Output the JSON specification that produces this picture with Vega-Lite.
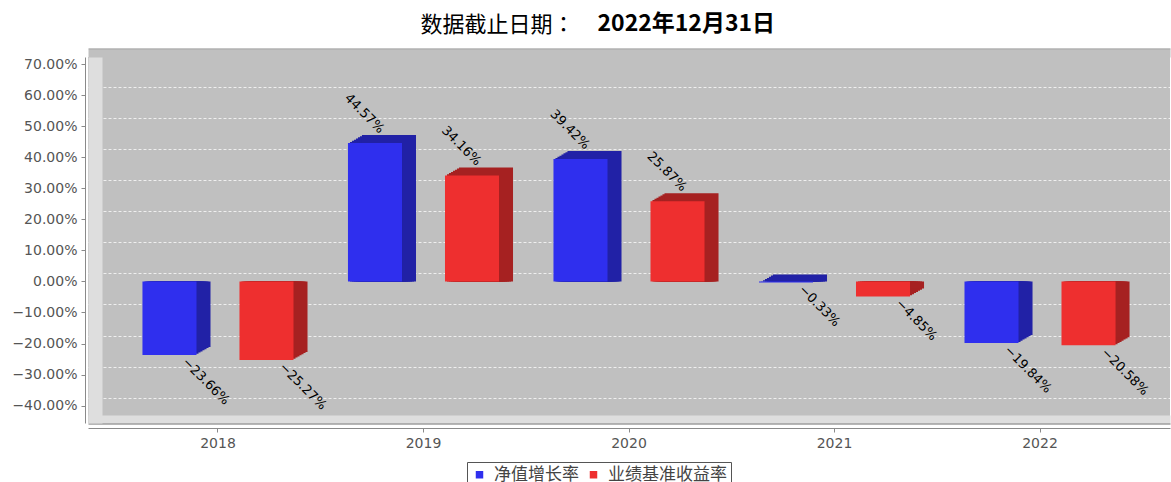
{
  "$schema": "https://vega.github.io/schema/vega-lite/v6.json",
  "width": 1082,
  "height": 366,
  "autosize": {"type": "none"},
  "padding": {"left": 88, "top": 57, "right": 1, "bottom": 59},
  "background": "#ffffff",
  "data": {
    "values": [
      {"year": "2018", "series": "净值增长率", "rate": -0.2366},
      {"year": "2018", "series": "业绩基准收益率", "rate": -0.2527},
      {"year": "2019", "series": "净值增长率", "rate": 0.4457},
      {"year": "2019", "series": "业绩基准收益率", "rate": 0.3416},
      {"year": "2020", "series": "净值增长率", "rate": 0.3942},
      {"year": "2020", "series": "业绩基准收益率", "rate": 0.2587},
      {"year": "2021", "series": "净值增长率", "rate": -0.0033},
      {"year": "2021", "series": "业绩基准收益率", "rate": -0.0485},
      {"year": "2022", "series": "净值增长率", "rate": -0.1984},
      {"year": "2022", "series": "业绩基准收益率", "rate": -0.2058}
    ]
  },
  "resolve": {
    "scale": {"xOffset": "independent"},
    "axis": {"x": "independent", "y": "independent"}
  },
  "layer": [
    {
      "mark": {"type": "bar", "yOffset": -1.14, "y2Offset": -1.14},
      "encoding": {
        "x": {"field": "year", "type": "nominal", "scale": {"paddingInner": 0.265, "paddingOuter": 0.265},
              "axis": {"orient": "top", "offset": 4, "domainWidth": 8, "domainColor": "#c0c0c0", "ticks": false, "labels": false, "grid": false, "zindex": 0,
                       "title": "数据截止日期：", "titleFont": "Noto Sans CJK TC", "titleFontSize": 22, "titleFontWeight": "normal", "titleColor": "#000000",
                       "titleAlign": "left", "titleBaseline": "middle", "titleAngle": 0, "titleX": 332, "titleY": -29}},
        "xOffset": {"field": "series", "type": "nominal", "scale": {"type": "band", "domain": ["净值增长率", "业绩基准收益率"], "range": [2, 153.05], "paddingInner": 0.443, "paddingOuter": 0}},
        "y": {"field": "rate", "type": "quantitative", "stack": null, "scale": {"domain": [-0.456, 0.723], "nice": false, "zero": false},
              "axis": {"orient": "left", "grid": true, "gridDash": [3, 2], "gridColor": "#ffffff", "gridOpacity": 0.75, "gridWidth": 1, "tickOffset": -8, "values": [-0.4, -0.3, -0.2, -0.1, 0, 0.1, 0.2, 0.3, 0.4, 0.5, 0.6, 0.7], "domain": false, "ticks": false, "labels": false, "title": null, "zindex": 0}},
        "color": {"condition": {"test": "datum.series === '净值增长率'", "value": "#2121a6"}, "value": "#a62121"}
      }
    },
    {
      "mark": {"type": "bar", "yOffset": -2.29, "y2Offset": -2.29},
      "encoding": {
        "x": {"field": "year", "type": "nominal", "scale": {"paddingInner": 0.265, "paddingOuter": 0.265},
              "axis": {"orient": "top", "offset": 8.5, "domainWidth": 1, "domainColor": "#8a8a8a", "ticks": false, "labels": false, "grid": false, "zindex": 0,
                       "title": "2022年12月31日", "titleFont": "Noto Sans CJK SC", "titleFontSize": 23, "titleFontWeight": "bold", "titleColor": "#000000",
                       "titleAlign": "left", "titleBaseline": "middle", "titleAngle": 0, "titleX": 509, "titleY": -25}},
        "xOffset": {"field": "series", "type": "nominal", "scale": {"type": "band", "domain": ["净值增长率", "业绩基准收益率"], "range": [4, 155.05], "paddingInner": 0.443, "paddingOuter": 0}},
        "y": {"field": "rate", "type": "quantitative", "stack": null, "scale": {"domain": [-0.456, 0.723], "nice": false, "zero": false},
              "axis": {"orient": "left", "offset": -7, "domainWidth": 14, "domainColor": "#dedede", "ticks": false, "labels": false, "grid": false, "title": null, "zindex": 1}},
        "color": {"condition": {"test": "datum.series === '净值增长率'", "value": "#2121a6"}, "value": "#a62121"}
      }
    },
    {
      "mark": {"type": "bar", "yOffset": -3.43, "y2Offset": -3.43},
      "encoding": {
        "x": {"field": "year", "type": "nominal", "scale": {"paddingInner": 0.265, "paddingOuter": 0.265},
              "axis": {"orient": "bottom", "offset": -4, "domainWidth": 8, "domainColor": "#dedede", "ticks": false, "labels": false, "title": null, "grid": false, "zindex": 1}},
        "xOffset": {"field": "series", "type": "nominal", "scale": {"type": "band", "domain": ["净值增长率", "业绩基准收益率"], "range": [6, 157.05], "paddingInner": 0.443, "paddingOuter": 0}},
        "y": {"field": "rate", "type": "quantitative", "stack": null, "scale": {"domain": [-0.456, 0.723], "nice": false, "zero": false}, "axis": null},
        "color": {"condition": {"test": "datum.series === '净值增长率'", "value": "#2121a6"}, "value": "#a62121"}
      }
    },
    {
      "mark": {"type": "bar", "yOffset": -4.57, "y2Offset": -4.57},
      "encoding": {
        "x": {"field": "year", "type": "nominal", "scale": {"paddingInner": 0.265, "paddingOuter": 0.265},
              "axis": {"orient": "bottom", "offset": 0.5, "domainWidth": 1, "domainColor": "#6e6e6e", "ticks": false, "labels": false, "title": null, "grid": false, "zindex": 1}},
        "xOffset": {"field": "series", "type": "nominal", "scale": {"type": "band", "domain": ["净值增长率", "业绩基准收益率"], "range": [8, 159.05], "paddingInner": 0.443, "paddingOuter": 0}},
        "y": {"field": "rate", "type": "quantitative", "stack": null, "scale": {"domain": [-0.456, 0.723], "nice": false, "zero": false}, "axis": null},
        "color": {"condition": {"test": "datum.series === '净值增长率'", "value": "#2121a6"}, "value": "#a62121"}
      }
    },
    {
      "mark": {"type": "bar", "yOffset": -5.71, "y2Offset": -5.71},
      "encoding": {
        "x": {"field": "year", "type": "nominal", "scale": {"paddingInner": 0.265, "paddingOuter": 0.265}, "axis": null},
        "xOffset": {"field": "series", "type": "nominal", "scale": {"type": "band", "domain": ["净值增长率", "业绩基准收益率"], "range": [10, 161.05], "paddingInner": 0.443, "paddingOuter": 0}},
        "y": {"field": "rate", "type": "quantitative", "stack": null, "scale": {"domain": [-0.456, 0.723], "nice": false, "zero": false}, "axis": null},
        "color": {"condition": {"test": "datum.series === '净值增长率'", "value": "#2121a6"}, "value": "#a62121"}
      }
    },
    {
      "mark": {"type": "bar", "yOffset": -6.86, "y2Offset": -6.86},
      "encoding": {
        "x": {"field": "year", "type": "nominal", "scale": {"paddingInner": 0.265, "paddingOuter": 0.265}, "axis": null},
        "xOffset": {"field": "series", "type": "nominal", "scale": {"type": "band", "domain": ["净值增长率", "业绩基准收益率"], "range": [12, 163.05], "paddingInner": 0.443, "paddingOuter": 0}},
        "y": {"field": "rate", "type": "quantitative", "stack": null, "scale": {"domain": [-0.456, 0.723], "nice": false, "zero": false}, "axis": null},
        "color": {"condition": {"test": "datum.series === '净值增长率'", "value": "#2121a6"}, "value": "#a62121"}
      }
    },
    {
      "mark": {"type": "bar", "yOffset": -8, "y2Offset": -8},
      "encoding": {
        "x": {"field": "year", "type": "nominal", "scale": {"paddingInner": 0.265, "paddingOuter": 0.265}, "axis": null},
        "xOffset": {"field": "series", "type": "nominal", "scale": {"type": "band", "domain": ["净值增长率", "业绩基准收益率"], "range": [14, 165.05], "paddingInner": 0.443, "paddingOuter": 0}},
        "y": {"field": "rate", "type": "quantitative", "stack": null, "scale": {"domain": [-0.456, 0.723], "nice": false, "zero": false}, "axis": null},
        "color": {"condition": {"test": "datum.series === '净值增长率'", "value": "#2121a6"}, "value": "#a62121"}
      }
    },
    {
      "mark": {"type": "bar"},
      "encoding": {
        "x": {"field": "year", "type": "nominal", "scale": {"paddingInner": 0.265, "paddingOuter": 0.265},
              "axis": {"orient": "bottom", "offset": 5, "title": null, "labelAngle": 0, "domainColor": "#8a8a8a", "tickColor": "#8a8a8a", "tickSize": 4, "labelPadding": 4, "labelFont": "DejaVu Sans", "labelFontSize": 14, "labelColor": "#555555", "grid": false, "zindex": 1}},
        "xOffset": {"field": "series", "type": "nominal", "scale": {"type": "band", "domain": ["净值增长率", "业绩基准收益率"], "range": [0, 151.05], "paddingInner": 0.443, "paddingOuter": 0}},
        "y": {"field": "rate", "type": "quantitative", "stack": null, "scale": {"domain": [-0.456, 0.723], "nice": false, "zero": false},
              "axis": {"orient": "left", "offset": 3, "title": null, "values": [-0.4, -0.3, -0.2, -0.1, 0, 0.1, 0.2, 0.3, 0.4, 0.5, 0.6, 0.7], "format": ".2%", "domainColor": "#8a8a8a", "tickColor": "#8a8a8a", "tickSize": 4, "labelPadding": 4, "labelFont": "DejaVu Sans", "labelFontSize": 14, "labelColor": "#555555", "grid": false, "zindex": 1}},
        "color": {"field": "series", "type": "nominal",
                  "scale": {"domain": ["净值增长率", "业绩基准收益率"], "range": ["#2f2fee", "#ee2f2f"]},
                  "legend": {"orient": "none", "legendX": 379, "legendY": 405, "direction": "horizontal", "title": null,
                             "symbolType": "square", "symbolSize": 56, "symbolStrokeWidth": 0, "symbolOpacity": 1,
                             "labelFont": "Noto Sans CJK SC", "labelFontSize": 17, "labelColor": "#444444", "labelOffset": 6,
                             "columnPadding": 6, "padding": 4, "strokeColor": "#555555", "fillColor": "#ffffff"}}
      }
    },
    {
      "transform": [{"filter": "datum.rate >= 0"}],
      "mark": {"type": "text", "angle": 45, "align": "right", "baseline": "middle", "yOffset": -12, "font": "DejaVu Sans", "fontSize": 13, "color": "#000000"},
      "encoding": {
        "x": {"field": "year", "type": "nominal", "scale": {"paddingInner": 0.265, "paddingOuter": 0.265}, "axis": null},
        "xOffset": {"field": "series", "type": "nominal", "scale": {"type": "band", "domain": ["净值增长率", "业绩基准收益率"], "range": [7, 158.05], "paddingInner": 0.443, "paddingOuter": 0}},
        "y": {"field": "rate", "type": "quantitative", "scale": {"domain": [-0.456, 0.723], "nice": false, "zero": false}, "axis": null},
        "text": {"field": "rate", "type": "quantitative", "format": ".2%"}
      }
    },
    {
      "transform": [{"filter": "datum.rate < 0"}],
      "mark": {"type": "text", "angle": 45, "align": "left", "baseline": "middle", "yOffset": 5, "font": "DejaVu Sans", "fontSize": 13, "color": "#000000"},
      "encoding": {
        "x": {"field": "year", "type": "nominal", "scale": {"paddingInner": 0.265, "paddingOuter": 0.265}, "axis": null},
        "xOffset": {"field": "series", "type": "nominal", "scale": {"type": "band", "domain": ["净值增长率", "业绩基准收益率"], "range": [15, 166.05], "paddingInner": 0.443, "paddingOuter": 0}},
        "y": {"field": "rate", "type": "quantitative", "scale": {"domain": [-0.456, 0.723], "nice": false, "zero": false}, "axis": null},
        "text": {"field": "rate", "type": "quantitative", "format": ".2%"}
      }
    }
  ],
  "config": {
    "view": {"fill": "#c0c0c0", "stroke": null}
  }
}
